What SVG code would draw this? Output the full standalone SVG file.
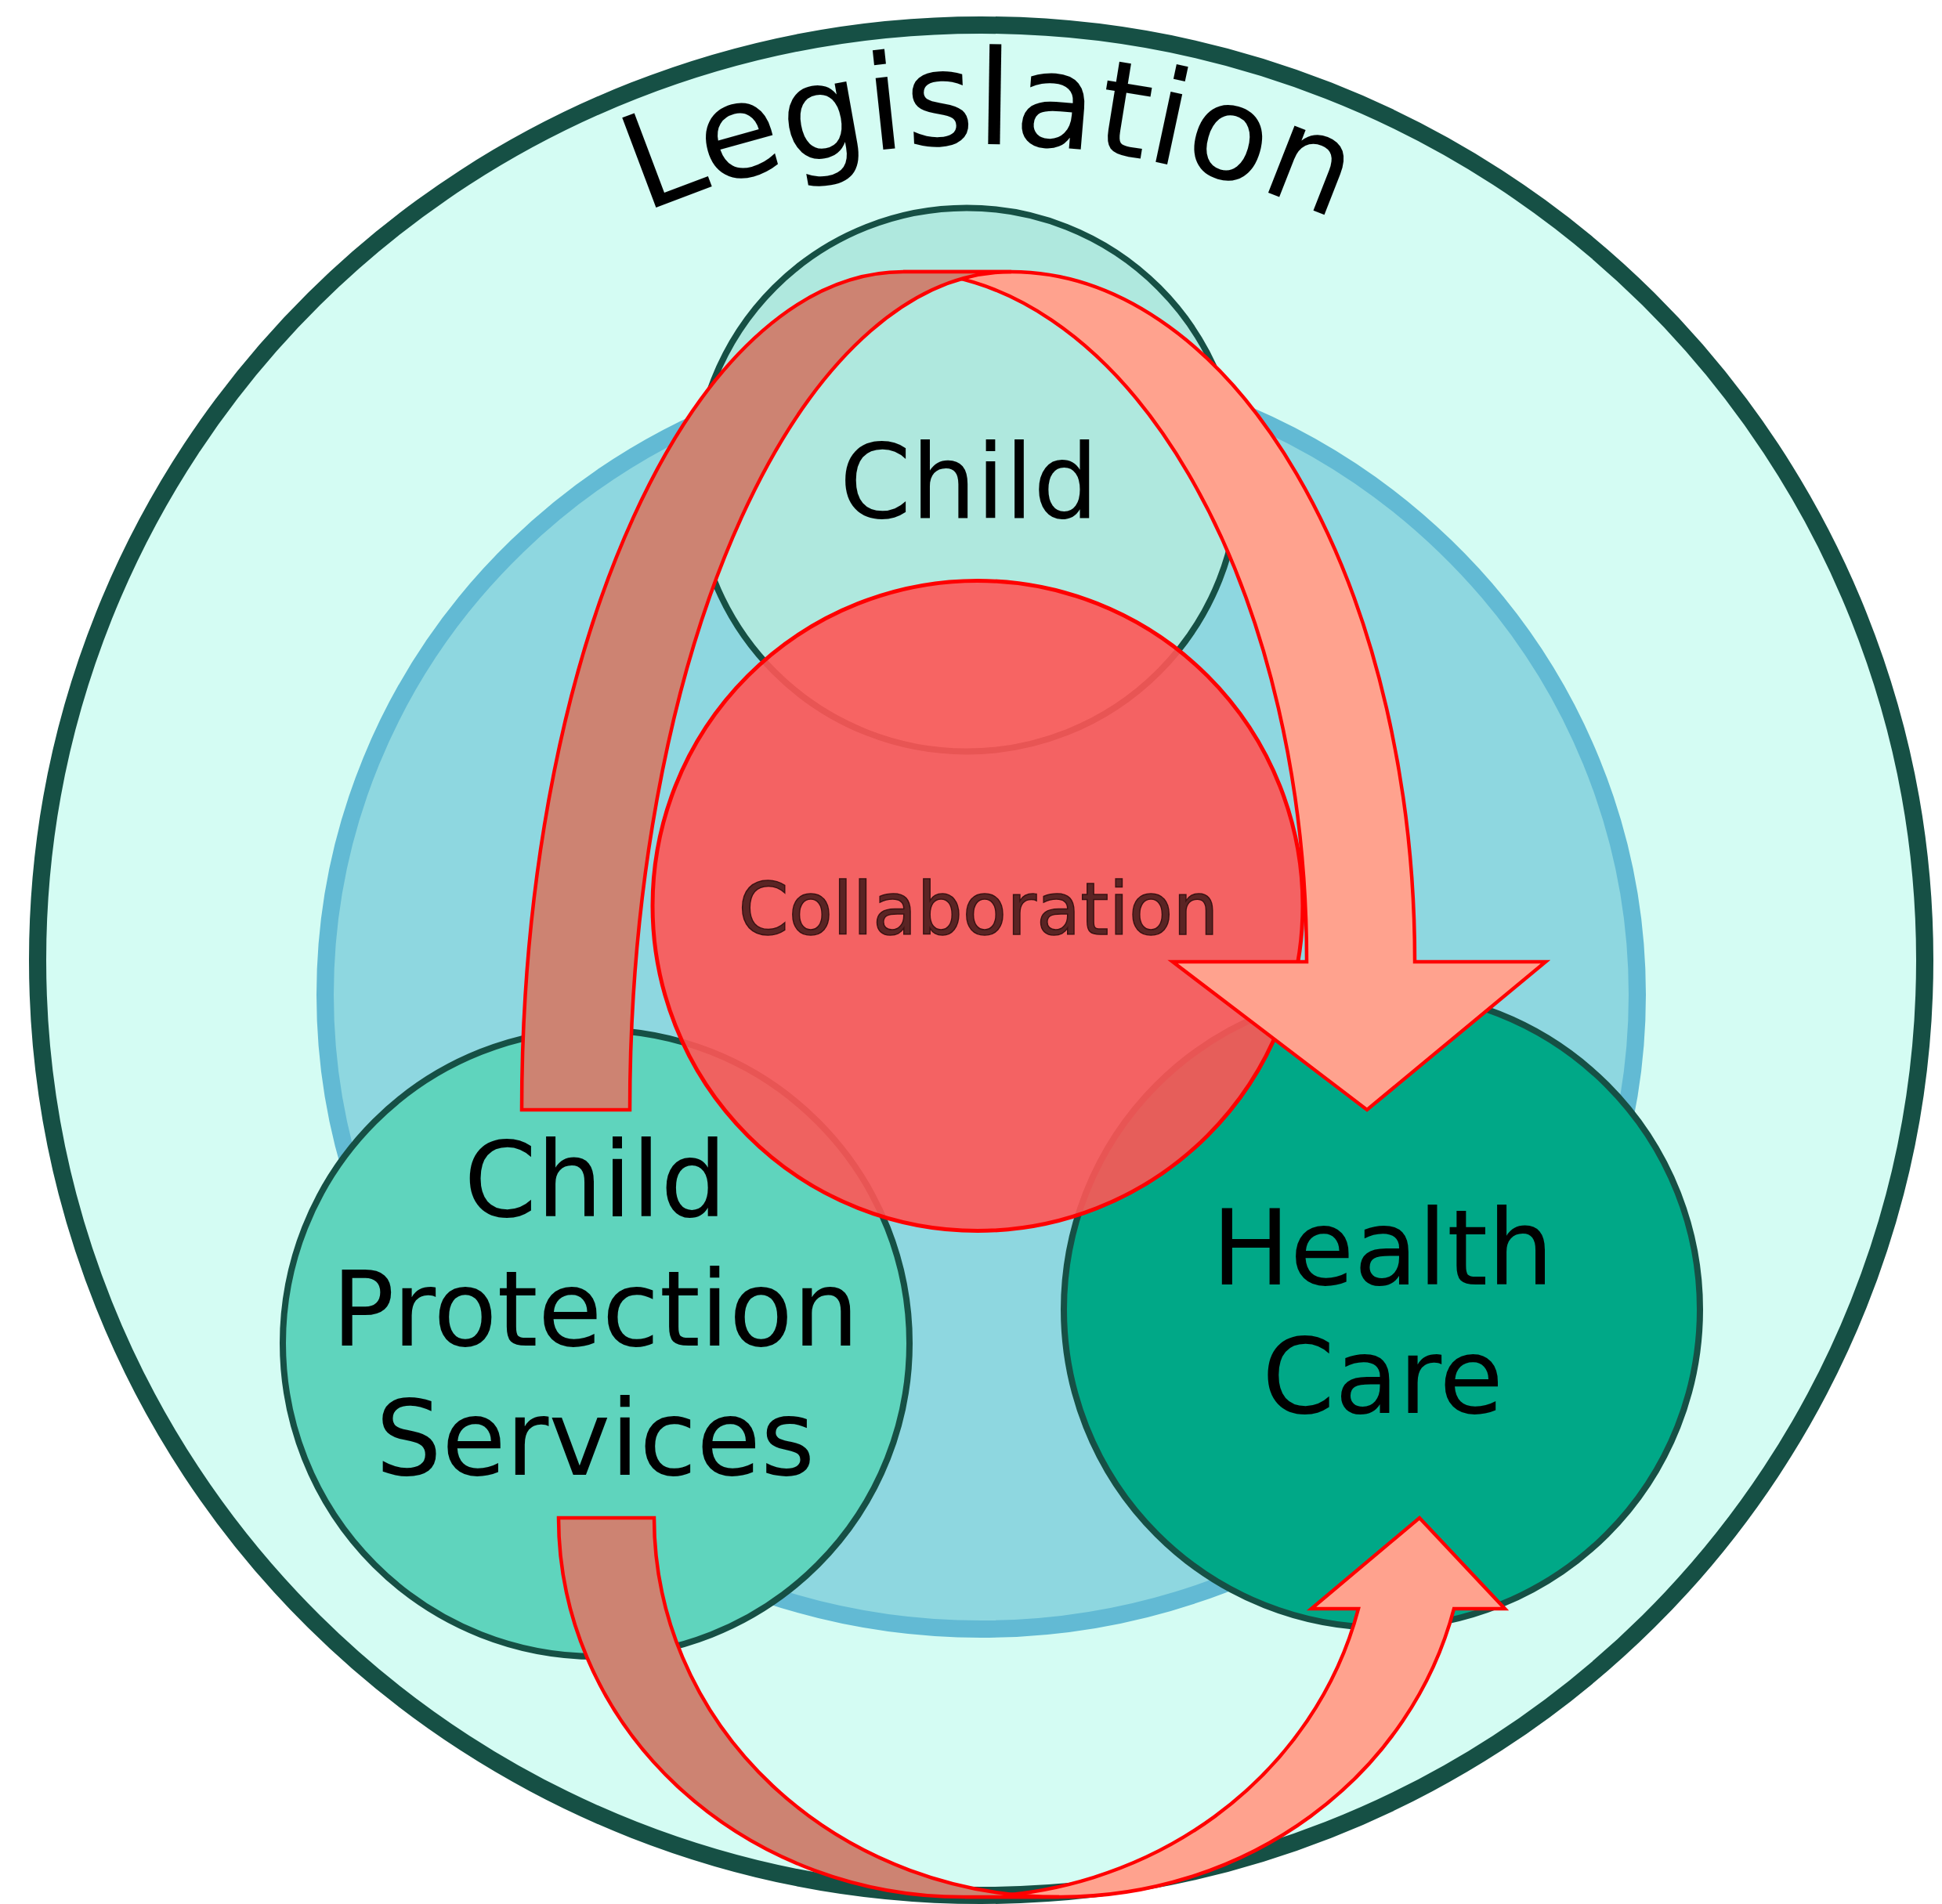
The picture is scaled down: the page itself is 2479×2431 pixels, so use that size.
<svg xmlns="http://www.w3.org/2000/svg" width="2479" height="2431" viewBox="0 0 2479 2431">
<defs>
<style>
.lbl{font-family:"DejaVu Sans","Liberation Sans",sans-serif;fill:#000;text-anchor:middle}
.big{font-size:133px}
.node{stroke:#165045;stroke-width:8}
.arrow{stroke:#ff0000;stroke-width:4.5;stroke-linejoin:miter}
.dark{fill:#cd8372}
.light{fill:#ffa28e}
</style>
<path id="legArc" d="M 152.5,1284 A 1100 1100 0 0 1 2352.5,1284"/>
</defs>
<rect width="2479" height="2431" fill="#ffffff"/>
<g id="legislation">
<ellipse cx="1252.5" cy="1226" rx="1204.5" ry="1194" fill="#d4fcf3" stroke="#165045" stroke-width="22"/>
<text class="lbl" font-size="168"><textPath href="#legArc" startOffset="1739">Legislation</textPath></text>
</g>
<g id="context">
<ellipse cx="1252.5" cy="1270" rx="837.5" ry="810" fill="#8ed7e0" stroke="#62bad4" stroke-width="22"/>
</g>
<g id="child">
<circle class="node" cx="1234" cy="612.5" r="347" fill="#afe8de"/>
</g>
<g id="cps">
<circle class="node" cx="761" cy="1715" r="400" fill="#5fd4bd"/>
</g>
<g id="healthcare">
<circle class="node" cx="1764" cy="1672" r="406" fill="#00a887"/>
</g>
<g id="collaboration">
<circle cx="1248" cy="1156.5" r="415" fill="#ff5555" fill-opacity="0.9" stroke="#ff0000" stroke-width="5"/>
</g>
<g id="connectors">
<path class="arrow light" d="M 1153,347 L 1291,347 A 515 881 0 0 1 1806,1228 L 1973,1228 L 1745,1417 L 1497,1228 L 1668,1228 A 515 881 0 0 0 1153,347 Z"/>
<path class="arrow dark" d="M 666,1417 A 487 1070 0 0 1 1153,347 L 1291,347 A 487 1070 0 0 0 804,1417 Z"/>
<path class="arrow light" d="M 1734,2054 A 517 484 0 0 1 1232,2422 L 1354,2422 A 517 484 0 0 0 1856,2054 L 1921,2054 L 1812,1938 L 1674,2054 Z"/>
<path class="arrow dark" d="M 713,1938 A 517 484 0 0 0 1230,2422 L 1352,2422 A 517 484 0 0 1 835,1938 Z"/>
</g>
<g id="labels">
<text class="lbl" font-size="131" x="1237" y="661">Child</text>
<text class="lbl big" x="760" y="1553">Child</text>
<text class="lbl big" x="760" y="1718">Protection</text>
<text class="lbl big" x="760" y="1883">Services</text>
<text class="lbl big" x="1765" y="1640">Health</text>
<text class="lbl big" x="1765" y="1804">Care</text>
<text class="lbl" font-size="92" x="1249" y="1193" style="fill:#5a2424;stroke:#3a1212;stroke-width:1.5">Collaboration</text>
</g>
</svg>
